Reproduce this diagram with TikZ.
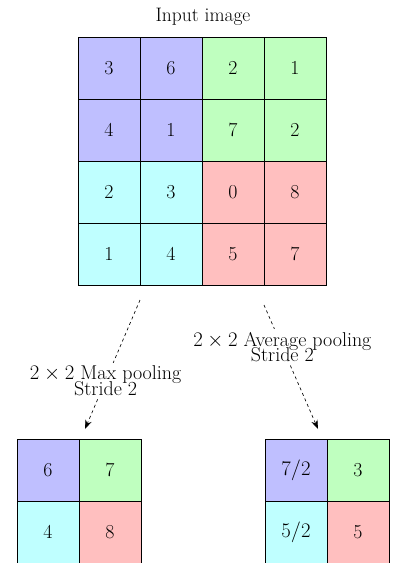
\documentclass[tikz,border=0pt]{standalone}
\usetikzlibrary{arrows.meta}
\definecolor{cellb}{RGB}{191,191,255}
\definecolor{cellg}{RGB}{191,255,191}
\definecolor{cellc}{RGB}{191,255,255}
\definecolor{cellr}{RGB}{255,191,191}
\begin{document}
\begin{tikzpicture}[x=1pt,y=-1pt,
  cell/.style={draw=black, line width=0.7pt, minimum size=62pt, inner sep=0pt,
    font=\fontsize{19.8}{22}\selectfont},
  cb/.style={cell, fill=cellb},
  cg/.style={cell, fill=cellg},
  cc/.style={cell, fill=cellc},
  cr/.style={cell, fill=cellr},
  flow/.style={dashed, line width=0.65pt, -{Stealth[length=9pt,width=6.5pt]}},
  lbl/.style={fill=white, inner sep=3pt, align=center,
    font=\fontsize{20}{15.5}\selectfont},
  title/.style={anchor=base, font=\fontsize{19.5}{22}\selectfont}]
\useasboundingbox (0,0) rectangle (392,563);

% input grid
\node[cb] (i11) at (109,68) {3};
\node[cb] (i12) at (171,68) {6};
\node[cg] (i13) at (233,68) {2};
\node[cg] (i14) at (295,68) {1};
\node[cb] (i21) at (109,130) {4};
\node[cb] (i22) at (171,130) {1};
\node[cg] (i23) at (233,130) {7};
\node[cg] (i24) at (295,130) {2};
\node[cc] (i31) at (109,192) {2};
\node[cc] (i32) at (171,192) {3};
\node[cr] (i33) at (233,192) {0};
\node[cr] (i34) at (295,192) {8};
\node[cc] (i41) at (109,254) {1};
\node[cc] (i42) at (171,254) {4};
\node[cr] (i43) at (233,254) {5};
\node[cr] (i44) at (295,254) {7};

\node[title] (ttl) at (203,21) {Input image};

% max pooling output
\node[cb] (m11) at (48,470) {6};
\node[cg] (m12) at (110,470) {7};
\node[cc] (m21) at (48,532) {4};
\node[cr] (m22) at (110,532) {8};

% average pooling output
\node[cb] (a11) at (296,470) {$7/2$};
\node[cg] (a12) at (358,470) {3};
\node[cc] (a21) at (296,532) {$5/2$};
\node[cr] (a22) at (358,532) {5};

% connectors
\coordinate (ms) at (140,300);
\coordinate (me) at (85,429);
\coordinate (as) at (264,305);
\coordinate (ae) at (318,429);
\draw[flow] (ms) -- node[lbl, pos=0.625] {$2\times 2$ Max pooling\\[-3pt]Stride 2} (me);
\draw[flow] (as) -- node[lbl, pos=0.34] {$2\times 2$ Average pooling\\[-3.5pt]Stride 2} (ae);
\end{tikzpicture}
\end{document}
